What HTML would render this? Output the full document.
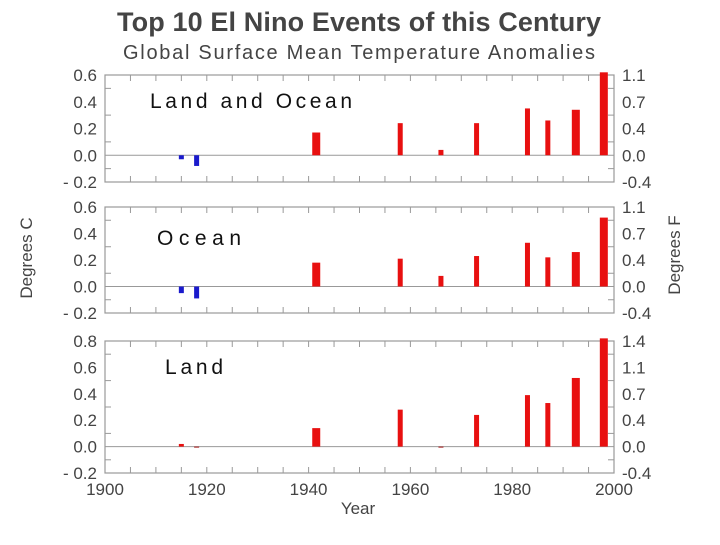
<!DOCTYPE html>
<html><head><meta charset="utf-8"><style>
body{margin:0;background:#fff;width:720px;height:540px;overflow:hidden}
svg text{font-family:"Liberation Sans",sans-serif}
</style></head><body>
<svg id="chart" width="720" height="540" viewBox="0 0 720 540">
<text x="359" y="31" font-size="27" text-anchor="middle" fill="#444" font-weight="bold" textLength="484">Top 10 El Nino Events of this Century</text>
<text x="359" y="59" font-size="20" text-anchor="middle" fill="#444" textLength="472">Global Surface Mean Temperature Anomalies</text>
<text transform="translate(32,258) rotate(-90)" font-size="17" text-anchor="middle" fill="#444">Degrees C</text>
<text transform="translate(680,255) rotate(-90)" font-size="17" text-anchor="middle" fill="#444">Degrees F</text>
<text x="358" y="514" font-size="17" text-anchor="middle" fill="#444">Year</text>
<g id="plots"></g>
</svg>
<script>
const years=[1915,1918,1941.5,1958,1966,1973,1983,1987,1992.5,1998];
const landOcean=[-0.03,-0.08,0.17,0.24,0.04,0.24,0.35,0.26,0.34,0.62];
const ocean=[-0.05,-0.09,0.18,0.21,0.08,0.23,0.33,0.22,0.26,0.52];
const land=[0.02,-0.005,0.14,0.28,-0.005,0.24,0.39,0.33,0.52,0.82];
const xTicks=[1900,1920,1940,1960,1980,2000];
const ticksC1=[-0.2,0.0,0.2,0.4,0.6];
const ticksF1=["-0.4","0.0","0.4","0.7","1.1"];
const ticksC3=[-0.2,0.0,0.2,0.4,0.6,0.8];
const ticksF3=["-0.4","0.0","0.4","0.7","1.1","1.4"];
const panelNames=["Land and Ocean","Ocean","Land"];
const ns="http://www.w3.org/2000/svg";
const g=document.getElementById('plots');
const X0=105,X1=614;
const xs=y=>X0+(y-1900)/100*(X1-X0);
function mk(t,a,p){const e=document.createElementNS(ns,t);for(const k in a)e.setAttribute(k,a[k]);(p||g).appendChild(e);return e;}
const panels=[
 {data:landOcean,tc:ticksC1,tf:ticksF1,top:75,bot:182,label:panelNames[0],lx:150,ly:108,tl:202,neg:'#1a1acc'},
 {data:ocean,tc:ticksC1,tf:ticksF1,top:207,bot:313,label:panelNames[1],lx:157,ly:245,tl:84,neg:'#1a1acc'},
 {data:land,tc:ticksC3,tf:ticksF3,top:341,bot:473,label:panelNames[2],lx:165,ly:374,tl:58,neg:'#a01010'}
];
panels.forEach((p,pi)=>{
 const vmin=p.tc[0],vmax=p.tc[p.tc.length-1];
 const ys=v=>p.bot-(v-vmin)/(vmax-vmin)*(p.bot-p.top);
 const grp=mk('g',{});
 
 
 const fr=mk('rect',{x:X0,y:p.top,width:X1-X0,height:p.bot-p.top,fill:'none',stroke:'#999','stroke-width':1.2},grp);
 
 
 for(let yr=1905;yr<2000;yr+=5){
  mk('line',{x1:xs(yr),x2:xs(yr),y1:p.bot,y2:p.bot-6,stroke:'#999'},grp);
  mk('line',{x1:xs(yr),x2:xs(yr),y1:p.top,y2:p.top+6,stroke:'#999'},grp);
 }
 for(let i=0;i<p.tc.length-1;i++){
  const ym=(ys(p.tc[i])+ys(p.tc[i+1]))/2;
  mk('line',{x1:X0,x2:X0+6,y1:ym,y2:ym,stroke:'#999'},grp);
  mk('line',{x1:X1,x2:X1-6,y1:ym,y2:ym,stroke:'#999'},grp);
 }
 mk('line',{x1:X0,x2:X1,y1:ys(0),y2:ys(0),stroke:'#999'},grp);
 p.tc.forEach((v,i)=>{
  const t=mk('text',{x:X0-8,y:ys(v)+6,'font-size':17,'text-anchor':'end',fill:'#444'},grp);
  t.textContent=(v<0?'- ':'')+Math.abs(v).toFixed(1);
  
  
  const f=mk('text',{x:X1+8,y:ys(v)+6,'font-size':17,fill:'#444'},grp);
  f.textContent=p.tf[i];
  
  
 });
 p.data.forEach((v,i)=>{
  const w=(i===2||i===8||i===9)?8:5;
  const y1=ys(Math.max(v,0)),y2=ys(Math.min(v,0));
  const yt=v>0?Math.max(y1,p.top-3):y1;
  const r=mk('rect',{x:xs(years[i])-w/2,y:yt,width:w,height:Math.max(1,Math.abs(y2-yt)),fill:v<0?p.neg:'#e81010'},grp);
  
  
 });
 const lt=mk('text',{x:p.lx,y:p.ly,'font-size':21,fill:'#111','font-weight':'300',textLength:p.tl},grp);
 lt.textContent=p.label;
 
 
});
xTicks.forEach(yr=>{
 const t=mk('text',{x:xs(yr),y:495,'font-size':17,'text-anchor':'middle',fill:'#444'});
 t.textContent=yr;
 
 
});
</script>
</body></html>
